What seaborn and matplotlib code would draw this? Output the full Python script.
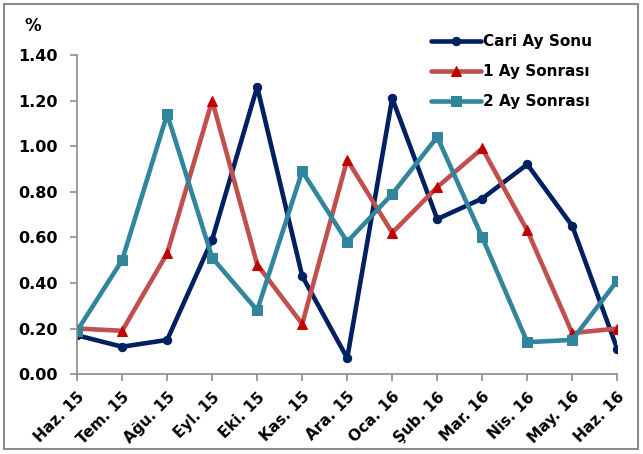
import numpy as np
import pandas as pd
import matplotlib
matplotlib.use("Agg")
import matplotlib.pyplot as plt
import matplotlib.transforms as mtrans
from matplotlib.patches import Rectangle
import seaborn as sns

months = ["Haz. 15", "Tem. 15", "Ağu. 15", "Eyl. 15", "Eki. 15", "Kas. 15", "Ara. 15",
          "Oca. 16", "Şub. 16", "Mar. 16", "Nis. 16", "May. 16", "Haz. 16"]
cari_ay = [0.17, 0.12, 0.15, 0.59, 1.26, 0.43, 0.07, 1.21, 0.68, 0.77, 0.92, 0.65, 0.11]
bir_ay = [0.20, 0.19, 0.53, 1.20, 0.48, 0.22, 0.94, 0.62, 0.82, 0.99, 0.63, 0.18, 0.20]
iki_ay = [0.19, 0.50, 1.14, 0.51, 0.28, 0.89, 0.58, 0.79, 1.04, 0.60, 0.14, 0.15, 0.41]
y_ticks = [0.0, 0.2, 0.4, 0.6, 0.8, 1.0, 1.2, 1.4]

sns.set_style("white")
plt.rcParams["font.family"] = ["DejaVu Sans"]
plt.rcParams["font.weight"] = "bold"
plt.rcParams["text.color"] = "black"
plt.rcParams["xtick.labelcolor"] = "black"
plt.rcParams["ytick.labelcolor"] = "black"

fig = plt.figure(figsize=(6.43, 4.54), dpi=100)
# grey frame around the whole chart
fig.patches.append(Rectangle((4 / 643, 5 / 454), 634 / 643, 445 / 454,
                             transform=fig.transFigure, fill=False,
                             edgecolor="#8c8c8c", linewidth=1.5))
ax = fig.add_axes([0.12, 0.176, 0.84, 0.703])

x = np.arange(len(months))
series = [
    ("Cari Ay Sonu", cari_ay, "#002060", "#002060", "o", 6),
    ("1 Ay Sonrası", bir_ay, "#C0504D", "#C00000", "^", 7),
    ("2 Ay Sonrası", iki_ay, "#31859C", "#31859C", "s", 7.5),
]
for name, vals, lc, mc, mk, ms in series:
    sns.lineplot(x=x, y=vals, ax=ax, color=lc, linewidth=3.3, marker=mk,
                 markersize=ms, markerfacecolor=mc, markeredgecolor=mc,
                 label=name)

ax.set_xlim(0, len(months) - 1)
ax.set_ylim(0, 1.4)
ax.set_xticks(x)
ax.set_xticklabels(months, rotation=45, ha="right", rotation_mode="anchor",
                   fontsize=11, fontweight="bold")
ax.set_yticks(y_ticks)
ax.set_yticklabels([f"{v:.2f}" for v in y_ticks], fontsize=11.5, fontweight="bold")

offset = mtrans.ScaledTranslation(-3 / 100, 0, fig.dpi_scale_trans)
for lab in ax.get_xticklabels():
    lab.set_transform(lab.get_transform() + offset)

for s in ["top", "right"]:
    ax.spines[s].set_visible(False)
for s in ["left", "bottom"]:
    ax.spines[s].set_color("#8c8c8c")
    ax.spines[s].set_linewidth(1.2)
ax.tick_params(axis="both", direction="out", length=5, width=1.2, color="#8c8c8c",
               bottom=True, left=True)
ax.tick_params(axis="x", pad=6)
ax.tick_params(axis="y", pad=9)

fig.text(0.038, 0.932, "%", fontsize=12, fontweight="bold")

leg = ax.legend(loc="upper right", bbox_to_anchor=(0.965, 1.085), frameon=False,
                handlelength=3.3, labelspacing=0.98, handletextpad=0.15,
                borderaxespad=0.0, prop={"weight": "bold", "size": 11})

fig.savefig("out.png", dpi=100)
